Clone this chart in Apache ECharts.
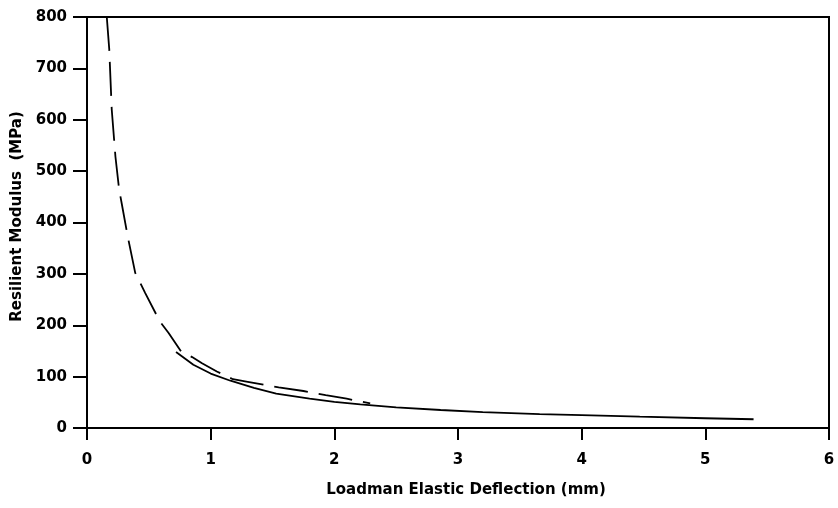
<!DOCTYPE html>
<html>
<head>
<meta charset="utf-8">
<script src="https://cdn.jsdelivr.net/npm/echarts@6/dist/echarts.min.js"></script>
<style>
html,body{margin:0;padding:0;background:#fff;}
#chart{width:838px;height:508px;}
</style>
</head>
<body>
<div id="chart"></div>
<script>
// Data
var xTicks = [0, 1, 2, 3, 4, 5, 6];
var yTicks = [0, 100, 200, 300, 400, 500, 600, 700, 800];
var xTitle = 'Loadman Elastic Deflection (mm)';
var yTitle = 'Resilient Modulus  (MPa)';

// Solid curve
var solidX = [0.72, 0.86, 1.0, 1.16, 1.35, 1.53, 1.8, 2.0, 2.21, 2.5, 2.86, 3.2, 3.66, 4.0, 4.47, 5.0, 5.39];
var solidY = [148, 123, 106, 92, 78, 67, 57, 51, 46, 40, 35, 31, 27, 25, 22, 19, 17];

// Dashed curve
var dashX = [0.16, 0.18, 0.2, 0.23, 0.26, 0.28, 0.33, 0.39, 0.47, 0.59, 0.66, 0.76, 0.85, 0.93, 1.05, 1.18, 1.3, 1.55, 1.75, 1.93, 2.1, 2.29];
var dashY = [800, 737, 620, 528, 464, 438, 372, 302, 263, 207, 185, 149, 138, 126, 110, 95, 90, 79, 72, 64, 57, 48];

function pairs(xs, ys) {
  var out = [];
  for (var i = 0; i < xs.length; i++) out.push([xs[i], ys[i]]);
  return out;
}

var FONT = '"DejaVu Sans", "Liberation Sans", Arial, sans-serif';
var chart = echarts.init(document.getElementById('chart'), null, {renderer: 'canvas'});
chart.setOption({
  animation: false,
  backgroundColor: '#ffffff',
  grid: {
    left: 87, right: 9, top: 17, bottom: 80,
    show: true, borderColor: '#000', borderWidth: 2, backgroundColor: 'transparent'
  },
  xAxis: {
    type: 'value',
    min: xTicks[0], max: xTicks[xTicks.length - 1], interval: 1,
    name: xTitle,
    nameLocation: 'middle',
    nameGap: 55,
    nameTextStyle: {fontFamily: FONT, fontWeight: 'bold', fontSize: 15, color: '#000', padding: [0, 0, 0, 16]},
    axisLine: {show: true, lineStyle: {color: '#000', width: 2}},
    axisTick: {show: true, inside: false, length: 12, lineStyle: {color: '#000', width: 2}},
    axisLabel: {fontFamily: FONT, fontWeight: 'bold', fontSize: 15, color: '#000', margin: 25},
    splitLine: {show: false}
  },
  yAxis: {
    type: 'value',
    min: yTicks[0], max: yTicks[yTicks.length - 1], interval: 100,
    name: yTitle,
    nameLocation: 'middle',
    nameGap: 61,
    nameTextStyle: {fontFamily: FONT, fontWeight: 'bold', fontSize: 15, color: '#000', padding: [0, 0, 0, 12]},
    axisLine: {show: true, lineStyle: {color: '#000', width: 2}},
    axisTick: {show: true, inside: false, length: 14, lineStyle: {color: '#000', width: 2}},
    axisLabel: {fontFamily: FONT, fontWeight: 'bold', fontSize: 15, color: '#000', margin: 20},
    splitLine: {show: false}
  },
  series: [
    {
      type: 'line',
      data: pairs(solidX, solidY),
      showSymbol: false,
      smooth: false,
      lineStyle: {color: '#000', width: 1.8, type: 'solid'}
    },
    {
      type: 'line',
      data: pairs(dashX, dashY),
      showSymbol: false,
      smooth: false,
      lineStyle: {color: '#000', width: 1.8, type: [34, 11]}
    }
  ]
});
</script>
</body>
</html>
